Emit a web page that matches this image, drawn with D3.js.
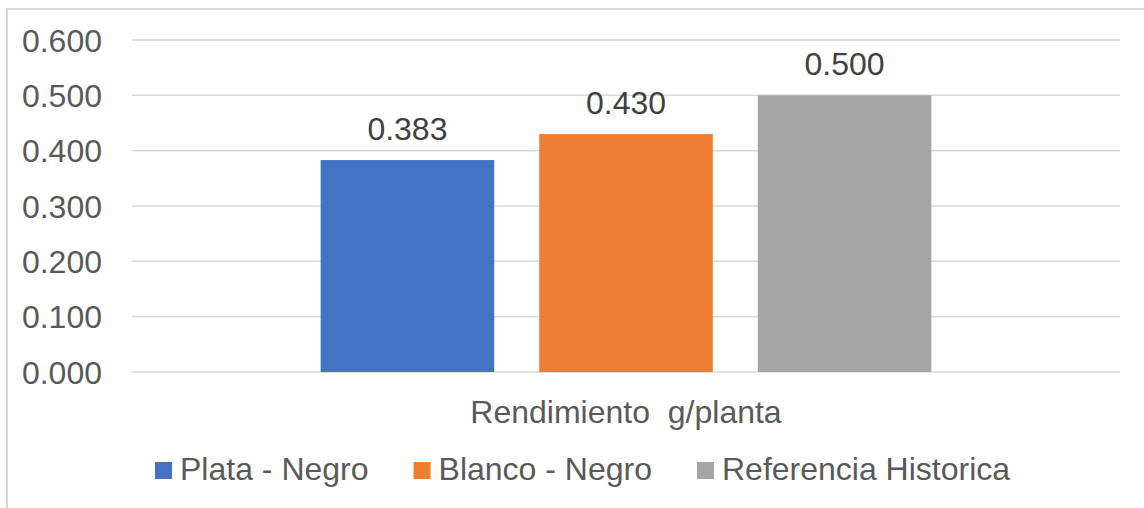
<!DOCTYPE html>
<html>
<head>
<meta charset="utf-8">
<script src="https://cdn.jsdelivr.net/npm/d3@7"></script>
<style>
  body { margin: 0; background: #fff; }
  text { font-family: "Liberation Sans", Arial, sans-serif; }
</style>
</head>
<body>
<div class="chart"></div>
<script>
(function(){

// chart data
var categories = ["Rendimiento  g/planta"];
var seriesNames = ["Plata - Negro", "Blanco - Negro", "Referencia Historica"];
var seriesValues = [0.383, 0.430, 0.500];
var seriesColors = ["#4472C4", "#ED7D31", "#A5A5A5"];
var yTicks = [0, 0.1, 0.2, 0.3, 0.4, 0.5, 0.6];

var width = 1144,
    height = 508;

var svg = d3.select(".chart")
    .append("svg")
    .attr("width", width)
    .attr("height", height);

// chart area border (runs off the right and bottom edges)
svg.append("rect")
    .attr("x", 7)
    .attr("y", 9)
    .attr("width", 1160)
    .attr("height", 520)
    .attr("fill", "#fff")
    .attr("stroke", "#d9d9d9")
    .attr("stroke-width", 2);

var plotLeft = 132, plotRight = 1120;

var y = d3.scaleLinear()
    .domain([0, 0.6])
    .range([372, 40]);

var x0 = d3.scaleBand()
    .domain(categories)
    .range([plotLeft, plotRight])
    .padding(0.236);

var x1 = d3.scaleBand()
    .domain(seriesNames)
    .range([0, x0.bandwidth()])
    .paddingInner(0.206);

// gridlines
svg.append("g")
    .selectAll("line")
    .data(yTicks)
    .enter()
    .append("line")
    .attr("x1", plotLeft)
    .attr("x2", plotRight)
    .attr("y1", function(d){ return y(d); })
    .attr("y2", function(d){ return y(d); })
    .attr("stroke", "#d9d9d9")
    .attr("stroke-width", 1.5);

// y axis labels
var yAxis = d3.axisLeft(y)
    .tickValues(yTicks)
    .tickFormat(d3.format(".3f"))
    .tickSize(0)
    .tickPadding(0);

var yg = svg.append("g")
    .attr("transform", "translate(102,1)")
    .call(yAxis);
yg.select(".domain").remove();
yg.selectAll("text")
    .attr("fill", "#595959")
    .style("font-size", "32px")
    .style("font-family", "'Liberation Sans', Arial, sans-serif");

// bars
var groups = svg.selectAll(".cat")
    .data(categories)
    .enter()
    .append("g")
    .attr("class", "cat")
    .attr("transform", function(d){ return "translate(" + x0(d) + ",0)"; });

var barData = seriesNames.map(function(name, i){
    return { name: name, value: seriesValues[i], color: seriesColors[i] };
});

groups.selectAll("rect")
    .data(barData)
    .enter()
    .append("rect")
    .attr("x", function(d){ return x1(d.name); })
    .attr("y", function(d){ return y(d.value); })
    .attr("width", x1.bandwidth())
    .attr("height", function(d){ return y(0) - y(d.value); })
    .attr("fill", function(d){ return d.color; });

// data labels
groups.selectAll(".lbl")
    .data(barData)
    .enter()
    .append("text")
    .attr("class", "lbl")
    .attr("x", function(d){ return x1(d.name) + x1.bandwidth() / 2; })
    .attr("y", function(d){ return y(d.value) - 20; })
    .attr("text-anchor", "middle")
    .attr("fill", "#404040")
    .style("font-size", "32px")
    .text(function(d){ return d3.format(".3f")(d.value); });

// category label
svg.selectAll(".catlbl")
    .data(categories)
    .enter()
    .append("text")
    .attr("class", "catlbl")
    .attr("x", function(d){ return x0(d) + x0.bandwidth() / 2; })
    .attr("y", 423)
    .attr("text-anchor", "middle")
    .attr("fill", "#595959")
    .style("font-size", "32px")
    .style("white-space", "pre")
    .text(function(d){ return d; });

// legend
var legend = svg.append("g");
var lx = 155;
barData.forEach(function(d){
    legend.append("rect")
        .attr("x", lx)
        .attr("y", 462)
        .attr("width", 17)
        .attr("height", 17)
        .attr("fill", d.color);
    var t = legend.append("text")
        .attr("x", lx + 25)
        .attr("y", 480)
        .attr("fill", "#595959")
        .style("font-size", "32px")
        .text(d.name);
    lx += 25 + t.node().getComputedTextLength() + 45;
});

})();
</script>
</body>
</html>
